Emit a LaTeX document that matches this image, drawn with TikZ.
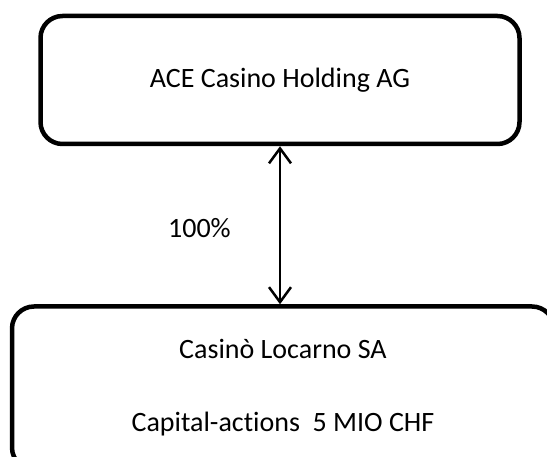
\documentclass[tikz,border=0pt]{standalone}
\usepackage{fontspec}
\setmainfont[Ligatures=NoCommon]{Carlito}
\usetikzlibrary{arrows.meta,positioning}

\tikzset{
    entity/.style={draw, line width=4.5pt, rounded corners=22pt, font=\fontsize{28}{34}\selectfont},
    share/.style={{Straight Barb[length=15pt,width=22pt]}-{Straight Barb[length=15pt,width=22pt]}, line width=2.5pt}
}

\begin{document}
\begin{tikzpicture}[x=1pt, y=-1pt]
    % Page frame
    \useasboundingbox (0,0) rectangle (547,457);
    \clip (0,0) rectangle (547,457);

    % Companies
    \node[entity, minimum width=479pt, minimum height=128pt] (holding) at (280,80) {ACE Casino Holding AG};
    \node[entity, minimum width=542pt, minimum height=163pt, align=center] (casino) at (283,388)
        {Casinò Locarno SA\\[39pt]Capital-actions~~5 MIO CHF};

    % Ownership link
    \draw[share] (holding.south) -- (holding.south |- casino.north)
        node[pos=0.52, left=48pt, inner sep=0pt, font=\fontsize{28}{34}\selectfont] (stake) {100\%};
\end{tikzpicture}
\end{document}
